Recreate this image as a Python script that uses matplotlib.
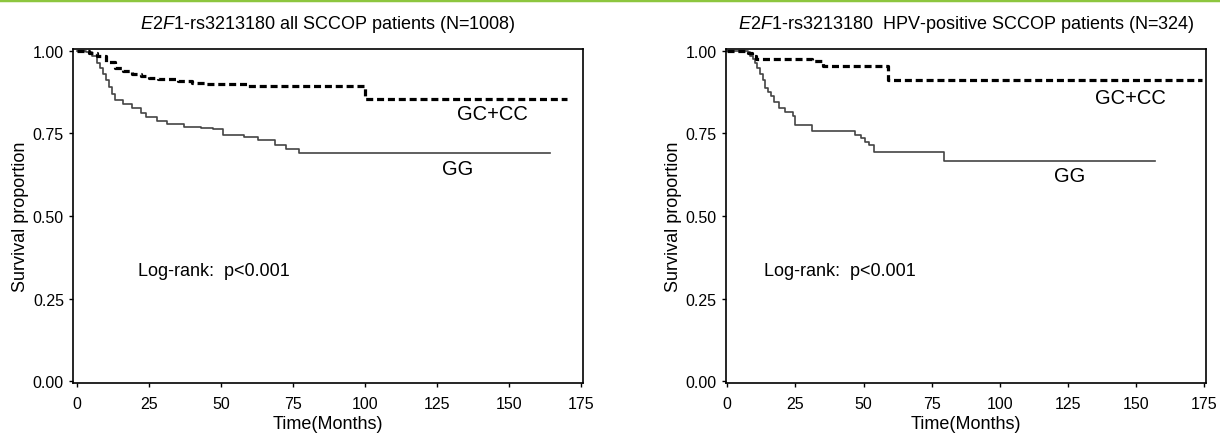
import matplotlib
matplotlib.use('Agg')
import matplotlib.pyplot as plt
from matplotlib.lines import Line2D

plt.rcParams['font.family'] = ['Liberation Sans', 'DejaVu Sans']
plt.rcParams['mathtext.fontset'] = 'custom'
plt.rcParams['mathtext.it'] = 'Liberation Sans:italic'
plt.rcParams['mathtext.rm'] = 'Liberation Sans'

# Left panel: all SCCOP patients
left_gccc_t = [0, 4, 7, 10, 13, 16, 19, 22, 25, 28, 31, 35, 39.7, 44.5, 59, 100, 170]
left_gccc_s = [1.0, 0.993, 0.985, 0.965, 0.949, 0.938, 0.929, 0.922, 0.918, 0.915,
               0.913, 0.908, 0.903, 0.898, 0.893, 0.854, 0.854]
left_gg_t = [0, 3, 5, 7, 8, 9, 10, 11, 12, 13, 16, 19, 22, 24, 27.6, 31, 37, 43, 47,
             50.5, 57.8, 62.6, 68.7, 72.3, 77, 164]
left_gg_s = [1.0, 0.995, 0.985, 0.964, 0.947, 0.93, 0.91, 0.89, 0.87, 0.852, 0.838,
             0.827, 0.812, 0.80, 0.786, 0.778, 0.770, 0.767, 0.763, 0.745, 0.740,
             0.730, 0.716, 0.704, 0.692, 0.692]

# Right panel: HPV-positive SCCOP patients
right_gccc_t = [0, 7.5, 9, 10.6, 31, 35, 59, 174]
right_gccc_s = [1.0, 0.993, 0.985, 0.974, 0.969, 0.954, 0.91, 0.91]
right_gg_t = [0, 7.5, 8.5, 9.4, 10.2, 11, 12, 13, 13.75, 15, 16, 17, 18.8, 21, 24, 25,
              29, 31, 47, 49, 50.5, 51.9, 53.8, 79.4, 157]
right_gg_s = [1.0, 0.995, 0.985, 0.974, 0.962, 0.949, 0.93, 0.91, 0.888, 0.875, 0.862,
              0.845, 0.826, 0.814, 0.804, 0.776, 0.774, 0.757, 0.745, 0.735, 0.725,
              0.714, 0.694, 0.666, 0.666]

xticks = [0, 25, 50, 75, 100, 125, 150, 175]
yticks = [0.0, 0.25, 0.5, 0.75, 1.0]

panels = [
    dict(pos=[0.0598, 0.117, 0.418, 0.768], xlim=(-1.5, 175.5),
         title=r'$\mathit{E2F1}$-rs3213180 all SCCOP patients (N=1008)',
         gccc=(left_gccc_t, left_gccc_s), gg=(left_gg_t, left_gg_s),
         gccc_lab=(144, 0.81), gg_lab=(132, 0.643), logrank=(21, 0.336)),
    dict(pos=[0.595, 0.117, 0.3934, 0.768], xlim=(-0.5, 175.5),
         title=r'$\mathit{E2F1}$-rs3213180  HPV-positive SCCOP patients (N=324)',
         gccc=(right_gccc_t, right_gccc_s), gg=(right_gg_t, right_gg_s),
         gccc_lab=(148, 0.857), gg_lab=(125.6, 0.622), logrank=(13.3, 0.336)),
]

fig = plt.figure(figsize=(12.2, 4.35), dpi=100)
fig.add_artist(Line2D([0, 1], [0.997, 0.997], transform=fig.transFigure,
                      color='#8dc63f', lw=2.5))

for p in panels:
    ax = fig.add_axes(p['pos'])
    ax.step(p['gg'][0], p['gg'][1], where='post', color='#444444', lw=1.2)
    ax.step(p['gccc'][0], p['gccc'][1], where='post', color='black', lw=2.3,
            linestyle=(0, (2.2, 1.2)))
    ax.set_xlim(*p['xlim'])
    ax.set_ylim(-0.005, 1.005)
    ax.set_xticks(xticks)
    ax.set_yticks(yticks)
    ax.set_yticklabels(['0.00', '0.25', '0.50', '0.75', '1.00'])
    ax.tick_params(direction='out', length=3, width=1, labelsize=11.5)
    ax.tick_params(axis='x', pad=6)
    for s in ax.spines.values():
        s.set_linewidth(1.2)
    ax.set_title(p['title'], fontsize=13, pad=15)
    ax.set_xlabel('Time(Months)', fontsize=13, labelpad=3)
    ax.set_ylabel('Survival proportion', fontsize=13, labelpad=3)
    ax.text(*p['gccc_lab'], 'GC+CC', fontsize=14.5, ha='center', va='center')
    ax.text(*p['gg_lab'], 'GG', fontsize=14.5, ha='center', va='center')
    ax.text(*p['logrank'], 'Log-rank:  p<0.001', fontsize=13, ha='left', va='center')

fig.savefig('out.png', dpi=100)
